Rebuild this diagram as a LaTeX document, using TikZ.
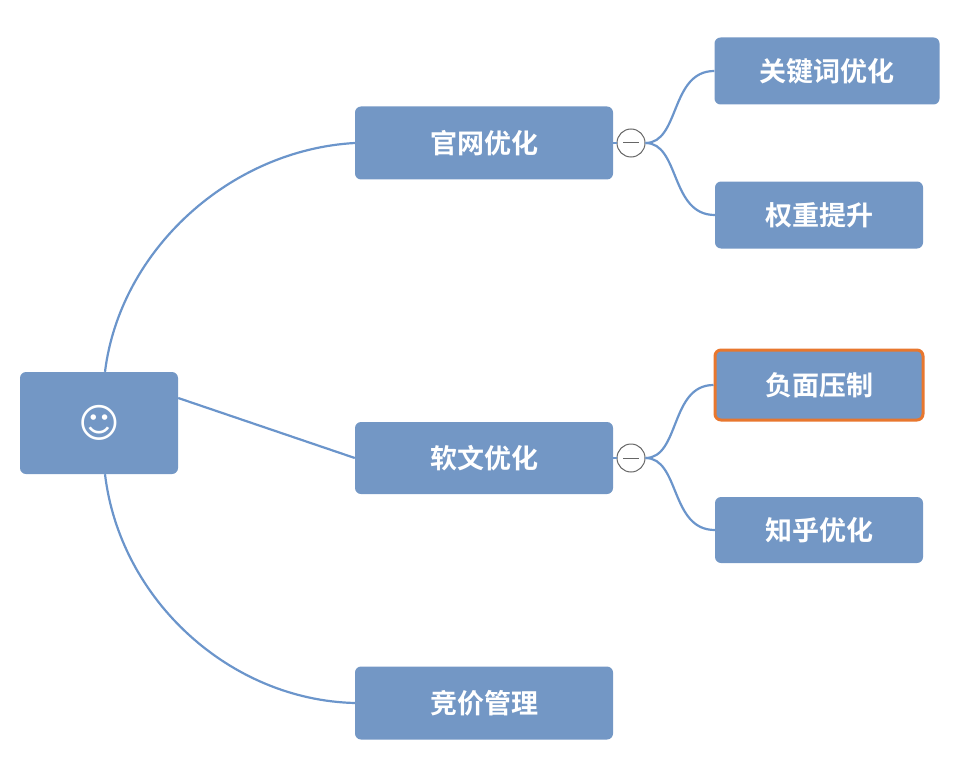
\documentclass[tikz,border=0pt]{standalone}
\usepackage{fontspec}
\newfontfamily\cjk{Noto Sans CJK SC Bold}
\newfontfamily\symb{DejaVu Sans}
\definecolor{boxblue}{HTML}{7397C5}
\definecolor{lineblue}{HTML}{6B95CB}
\definecolor{markorange}{HTML}{E8772E}
\tikzset{
  topic/.style={draw=none, fill=boxblue, rounded corners=6pt, text=white,
    font=\cjk\fontsize{27}{30}\selectfont, inner sep=0pt},
  link/.style={draw=lineblue, line width=2.2pt},
  fold/.style={draw=gray!80!black, fill=white, circle, minimum size=28pt, inner sep=0pt, line width=1pt}
}
\begin{document}
\begin{tikzpicture}[x=1pt,y=-1pt]
  \useasboundingbox (0,0) rectangle (976,762);

  \node[topic, minimum width=158pt, minimum height=102pt] (root) at (99,423)
    {\symb\fontsize{40}{40}\selectfont ☺};
  \node[topic, minimum width=258pt, minimum height=73pt] (site) at (484,143) {官网优化};
  \node[topic, minimum width=258pt, minimum height=72pt] (soft) at (484,458) {软文优化};
  \node[topic, minimum width=258pt, minimum height=73pt] (bid) at (484,703) {竞价管理};

  \node[topic, minimum width=225pt, minimum height=67pt] (kw) at (827,71) {关键词优化};
  \node[topic, minimum width=208pt, minimum height=67pt] (wt) at (819,215) {权重提升};
  \node[topic, minimum width=208pt, minimum height=70pt, draw=markorange, line width=3pt] (neg) at (819,385) {负面压制};
  \node[topic, minimum width=208pt, minimum height=66pt] (zh) at (819,530) {知乎优化};

  \node[fold] (f1) at (631,143) {};
  \node[fold] (f2) at (631,458) {};
  \foreach \f in {f1,f2}
    \draw[gray!80!black, line width=1pt] ([xshift=-8pt]\f.center) -- ([xshift=8pt]\f.center);

  % main branches
  \draw[link] (root.north) ++(6pt,0) .. controls (120,250) and (230,150) .. (site.west);
  \draw[link] (root.east) ++(0,25pt) -- (soft.west);
  \draw[link] (root.south) ++(6pt,0) .. controls (120,600) and (230,700) .. (bid.west);

  % sub branches
  \draw[link] (site.east) -- (f1.west);
  \draw[link] (soft.east) -- (f2.west);
  \draw[link] (f1.east) .. controls (680,143) and (670,71) .. (kw.west);
  \draw[link] (f1.east) .. controls (680,143) and (670,215) .. (wt.west);
  \draw[link] (f2.east) .. controls (680,458) and (670,385) .. (neg.west);
  \draw[link] (f2.east) .. controls (680,458) and (670,530) .. (zh.west);
\end{tikzpicture}
\end{document}
